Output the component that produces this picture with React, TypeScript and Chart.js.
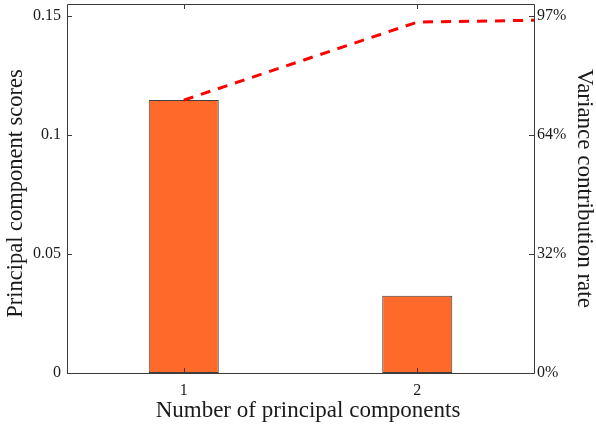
import React, { useEffect, useRef } from "react";
import { Chart, registerables } from "chart.js";

Chart.register(...registerables);

// ---- data ----
const components = [1, 2];
const scores = [0.1147, 0.0325];
const cumulativeX = [1, 2, 3];
const cumulativeRate = [73.8, 94.9, 95.9];
const leftTicks = [0, 0.05, 0.1, 0.15];
const leftTickLabels = ["0", "0.05", "0.1", "0.15"];
const rightTicks = [0, 32.2, 64.4, 96.6];
const rightTickLabels = ["0%", "32%", "64%", "97%"];
const xMin = 0.5;
const xMax = 2.5;
const leftMax = 0.155;
const rightMax = 99.8;
const xTitle = "Number of principal components";
const yTitle = "Principal component scores";
const y2Title = "Variance contribution rate";

const FONT = "'Liberation Serif', 'Times New Roman', serif";
const TEXT = "#1a1a1a";
const AXIS = "#3a3a3a";

const boxPlugin = {
  id: "matlabBox",
  afterDatasetsDraw(chart: any) {
    const { ctx, chartArea } = chart;
    const { left, right, top, bottom } = chartArea;
    const sx = chart.scales.x;
    const sy = chart.scales.y;
    const sy2 = chart.scales.y2;
    const tl = 5;
    ctx.save();
    ctx.strokeStyle = AXIS;
    ctx.lineWidth = 1;
    ctx.beginPath();
    ctx.rect(Math.round(left) + 0.5, Math.round(top) + 0.5, Math.round(right - left), Math.round(bottom - top));
    ctx.stroke();
    ctx.beginPath();
    sx.ticks.forEach((t: any) => {
      const px = Math.round(sx.getPixelForValue(t.value)) + 0.5;
      ctx.moveTo(px, bottom);
      ctx.lineTo(px, bottom - tl);
      ctx.moveTo(px, top);
      ctx.lineTo(px, top + tl);
    });
    sy.ticks.forEach((t: any) => {
      const py = Math.round(sy.getPixelForValue(t.value)) + 0.5;
      ctx.moveTo(left, py);
      ctx.lineTo(left + tl, py);
    });
    sy2.ticks.forEach((t: any) => {
      const py = Math.round(sy2.getPixelForValue(t.value)) + 0.5;
      ctx.moveTo(right, py);
      ctx.lineTo(right - tl, py);
    });
    ctx.stroke();
    ctx.restore();
  },
  afterDraw(chart: any) {
    const { ctx, chartArea } = chart;
    const { left, right, top, bottom } = chartArea;
    ctx.save();
    ctx.fillStyle = TEXT;
    ctx.textAlign = "center";
    ctx.textBaseline = "middle";
    ctx.font = `23px ${FONT}`;
    ctx.fillText(xTitle, (left + right) / 2 + 7.5, bottom + 37.5);
    ctx.font = `22.5px ${FONT}`;
    ctx.translate(16.5, (top + bottom) / 2 + 5);
    ctx.rotate(-Math.PI / 2);
    ctx.fillText(yTitle, 0, 0);
    ctx.restore();
  },
};

export default function App() {
  const ref = useRef<HTMLCanvasElement | null>(null);
  useEffect(() => {
    document.body.style.margin = "0";
    const canvas = ref.current;
    if (!canvas) return;
    const chart = new Chart(canvas, {
      type: "bar",
      data: {
        datasets: [
          {
            type: "line",
            order: 0,
            yAxisID: "y2",
            xAxisID: "x",
            data: cumulativeX.map((x, i) => ({ x, y: cumulativeRate[i] })),
            borderColor: "#FF0000",
            borderWidth: 3,
            borderDash: [10, 8],
            pointRadius: 0,
            fill: false,
            tension: 0,
            clip: 0,
          } as any,
          {
            type: "bar",
            order: 1,
            yAxisID: "y",
            xAxisID: "x",
            data: components.map((x, i) => ({ x, y: scores[i] })),
            backgroundColor: "#FF6A2A",
            borderColor: "#404040",
            borderWidth: 1,
            borderSkipped: false,
            barPercentage: 0.3,
            categoryPercentage: 1,
          } as any,
        ],
      },
      options: {
        responsive: false,
        animation: false,
        layout: { padding: { top: 4, left: 0, right: 0, bottom: 0 } },
        plugins: {
          legend: { display: false },
          tooltip: { enabled: false },
        },
        scales: {
          x: {
            type: "linear",
            position: "bottom",
            min: xMin,
            max: xMax,
            offset: false,
            grid: { display: false, drawTicks: false },
            border: { display: false },
            ticks: {
              padding: 10,
              color: TEXT,
              font: { family: FONT, size: 16, lineHeight: 1 },
              callback: (v: any) => String(v),
            },
            afterBuildTicks: (s: any) => {
              s.ticks = components.map((v) => ({ value: v }));
            },
            afterFit: (s: any) => {
              s.height = 57;
              s.paddingLeft = 0;
              s.paddingRight = 0;
            },
            title: { display: false },
          },
          y: {
            type: "linear",
            position: "left",
            min: 0,
            max: leftMax,
            grid: { display: false, drawTicks: false },
            border: { display: false },
            ticks: {
              padding: 6,
              color: TEXT,
              font: { family: FONT, size: 16, lineHeight: 1 },
              callback: (v: any) => {
                const i = leftTicks.indexOf(v);
                return i >= 0 ? leftTickLabels[i] : "";
              },
            },
            afterBuildTicks: (s: any) => {
              s.ticks = leftTicks.map((v) => ({ value: v }));
            },
            afterFit: (s: any) => {
              s.width = 67;
              s.paddingTop = 0;
              s.paddingBottom = 0;
            },
            title: { display: false },
          },
          y2: {
            type: "linear",
            position: "right",
            min: 0,
            max: rightMax,
            grid: { display: false, drawTicks: false },
            border: { display: false },
            ticks: {
              padding: 3,
              color: TEXT,
              font: { family: FONT, size: 16, lineHeight: 1 },
              callback: (v: any) => {
                const i = rightTicks.indexOf(v);
                return i >= 0 ? rightTickLabels[i] : "";
              },
            },
            afterBuildTicks: (s: any) => {
              s.ticks = rightTicks.map((v) => ({ value: v }));
            },
            afterFit: (s: any) => {
              s.width = 62;
              s.paddingTop = 0;
              s.paddingBottom = 0;
            },
            title: {
              display: true,
              text: y2Title,
              color: TEXT,
              font: { family: FONT, size: 23, lineHeight: 1 },
              padding: { top: 0, bottom: 0 },
            },
          },
        },
      },
      plugins: [boxPlugin],
    });
    return () => chart.destroy();
  }, []);
  return <canvas ref={ref} width={596} height={430} style={{ display: "block" }} />;
}
